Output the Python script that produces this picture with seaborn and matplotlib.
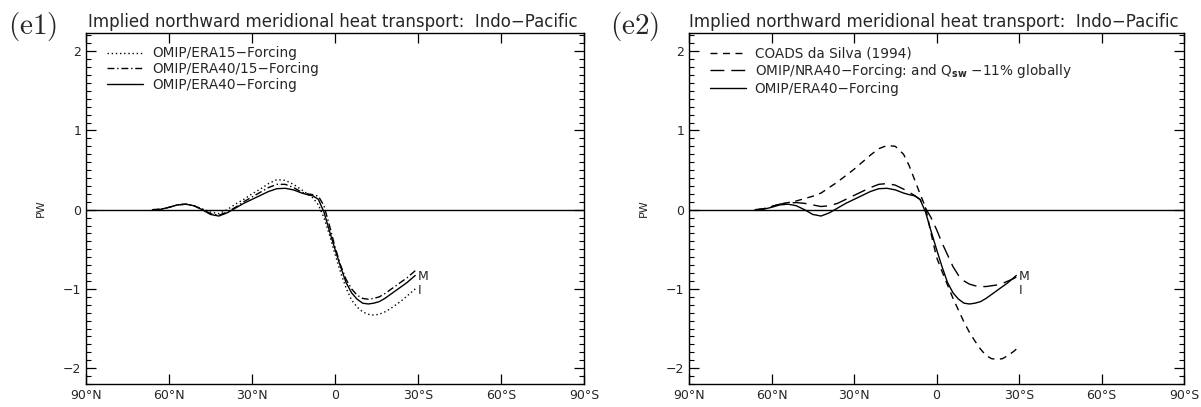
import numpy as np
import pandas as pd
import seaborn as sns
import matplotlib
matplotlib.use("Agg")
import matplotlib.pyplot as plt
from matplotlib.ticker import MultipleLocator

sns.set_style("ticks")
plt.rcParams['font.family'] = ['DejaVu Sans']
plt.rcParams['mathtext.fontset'] = 'dejavusans'

# latitude (deg N, negative = S) and implied heat transport in PW
lat = [66, 63, 60, 57, 54, 51, 48, 45, 42, 39, 36, 33, 30, 27, 24, 21, 18, 15,
       12, 10, 8, 6, 4, 2, 0, -2, -4, -6, -8, -10, -12, -14, -16, -18, -20,
       -22, -24, -26, -28, -29]

era40 = [0.0, 0.005, 0.03, 0.06, 0.07, 0.05, 0.0, -0.06, -0.08, -0.04, 0.02,
         0.08, 0.13, 0.18, 0.23, 0.265, 0.27, 0.25, 0.21, 0.19, 0.175, 0.13,
         -0.03, -0.27, -0.5, -0.72, -0.92, -1.05, -1.13, -1.18, -1.19, -1.18,
         -1.16, -1.12, -1.07, -1.02, -0.97, -0.92, -0.86, -0.83]

era15 = [0.0, 0.005, 0.03, 0.06, 0.07, 0.05, 0.01, -0.03, -0.05, 0.0, 0.07,
         0.13, 0.2, 0.26, 0.33, 0.38, 0.37, 0.32, 0.25, 0.2, 0.15, 0.06,
         -0.1, -0.32, -0.56, -0.79, -0.99, -1.14, -1.23, -1.29, -1.32, -1.33,
         -1.32, -1.29, -1.25, -1.2, -1.15, -1.09, -1.03, -1.0]

era40_15 = [0.0, 0.005, 0.03, 0.06, 0.07, 0.05, 0.005, -0.05, -0.07, -0.03,
            0.03, 0.1, 0.16, 0.22, 0.28, 0.32, 0.32, 0.28, 0.22, 0.2, 0.19,
            0.17, 0.05, -0.2, -0.47, -0.7, -0.88, -1.0, -1.08, -1.12, -1.13,
            -1.12, -1.1, -1.06, -1.01, -0.96, -0.91, -0.86, -0.8, -0.77]

coads = [0.0, 0.01, 0.04, 0.07, 0.09, 0.11, 0.14, 0.17, 0.21, 0.28, 0.35,
         0.43, 0.51, 0.6, 0.69, 0.77, 0.81, 0.8, 0.7, 0.56, 0.38, 0.2, 0.03,
         -0.3, -0.6, -0.78, -0.95, -1.12, -1.27, -1.42, -1.55, -1.66, -1.76,
         -1.84, -1.88, -1.89, -1.88, -1.84, -1.79, -1.76]

nra40 = [0.0, 0.01, 0.04, 0.07, 0.085, 0.09, 0.08, 0.06, 0.04, 0.05, 0.08,
         0.13, 0.18, 0.23, 0.28, 0.32, 0.33, 0.31, 0.26, 0.22, 0.18, 0.13,
         0.02, -0.1, -0.25, -0.42, -0.57, -0.72, -0.83, -0.9, -0.94, -0.96,
         -0.97, -0.97, -0.96, -0.95, -0.93, -0.9, -0.87, -0.85]

xticks = [90, 60, 30, 0, -30, -60, -90]
xticklabels = ['90°N', '60°N', '30°N', '0', '30°S', '60°S', '90°S']
title = 'Implied northward meridional heat transport:  Indo\u2212Pacific'

left_series = [
    ('OMIP/ERA15\u2212Forcing', era15, (0, (1, 2))),
    ('OMIP/ERA40/15\u2212Forcing', era40_15, (0, (5, 2, 1, 2))),
    ('OMIP/ERA40\u2212Forcing', era40, '-'),
]
right_series = [
    ('COADS da Silva (1994)', coads, (0, (5, 4))),
    ('OMIP/NRA40\u2212Forcing: and Q$_{\\mathbf{sw}}$ \u221211% globally', nra40, (0, (10, 5))),
    ('OMIP/ERA40\u2212Forcing', era40, '-'),
]

fig = plt.figure(figsize=(12.01, 4.07), dpi=100)
ax1 = fig.add_axes([0.0716, 0.0565, 0.4147, 0.8624])
ax2 = fig.add_axes([0.5737, 0.0565, 0.4122, 0.8624])

for ax, series in [(ax1, left_series), (ax2, right_series)]:
    for name, vals, ls in series:
        df = pd.DataFrame({'lat': lat, 'pw': vals})
        sns.lineplot(data=df, x='lat', y='pw', ax=ax, color='k', lw=1.0,
                     linestyle=ls, estimator=None, label=name)
    ax.axhline(0, color='k', lw=1.0)
    ax.set_xlim(90, -90)
    ax.set_ylim(-2.2, 2.23)
    ax.set_xticks(xticks)
    ax.set_xticklabels(xticklabels, fontsize=9)
    ax.set_yticks([-2, -1, 0, 1, 2])
    ax.set_yticklabels(['\u22122', '\u22121', '0', '1', '2'], fontsize=9)
    ax.yaxis.set_minor_locator(MultipleLocator(0.1))
    ax.tick_params(which='both', direction='in', top=True, right=True, color='k')
    ax.tick_params(which='major', length=7, width=0.9)
    ax.tick_params(which='minor', length=3.5, width=0.8)
    ax.tick_params(axis='x', which='minor', top=False, bottom=False)
    ax.set_xlabel('')
    ax.set_ylabel('PW', fontsize=8, labelpad=12)
    for sp in ax.spines.values():
        sp.set_color('k')
        sp.set_linewidth(1.0)
    ax.text(0.988, 1.018, title, transform=ax.transAxes, ha='right', va='baseline', fontsize=12)
    ax.text(-29.8, -0.84, 'M', fontsize=9, ha='left', va='center')
    ax.text(-29.8, -1.02, 'I', fontsize=9, ha='left', va='center')
    ax.legend(loc='upper left', bbox_to_anchor=(0.042, 0.962), frameon=False,
              fontsize=9.8, handlelength=2.65, handletextpad=0.65, labelspacing=0.12,
              borderpad=0, borderaxespad=0)

fig.text(0.007, 0.935, r'$\mathrm{(e1)}$', fontsize=21, ha='left', va='center',
         math_fontfamily='cm')
fig.text(0.508, 0.935, r'$\mathrm{(e2)}$', fontsize=21, ha='left', va='center',
         math_fontfamily='cm')

fig.savefig('out.png', dpi=100)
